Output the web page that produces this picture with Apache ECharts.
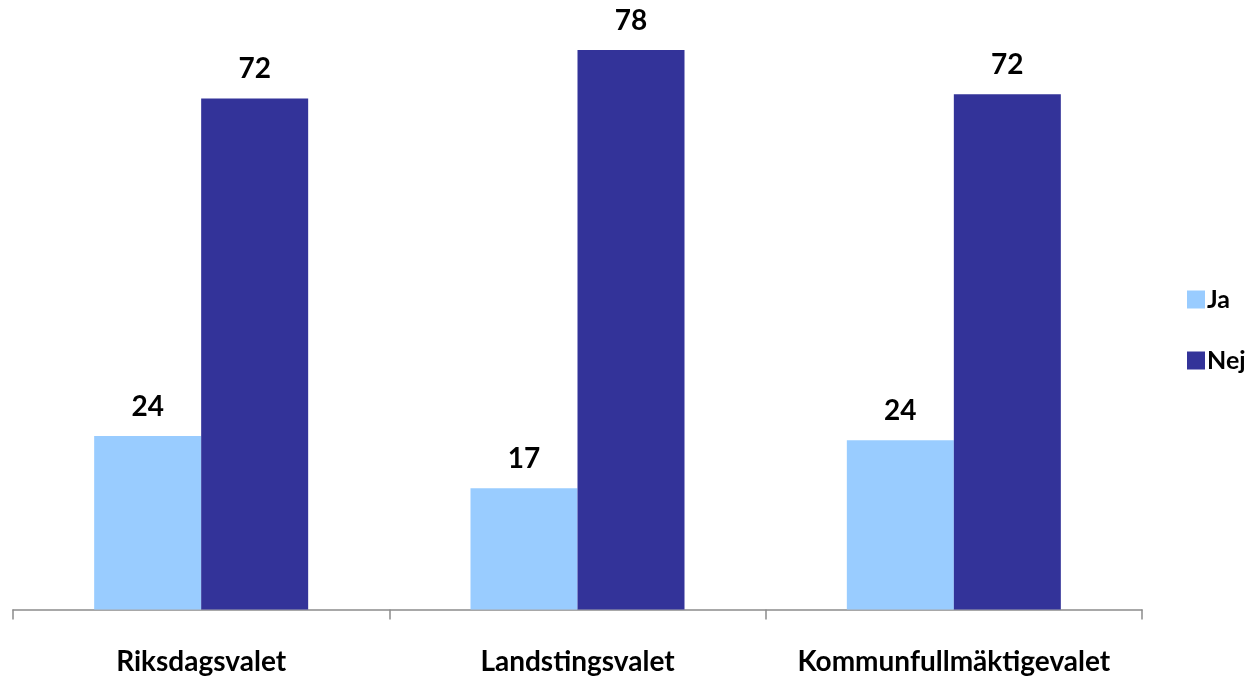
<!DOCTYPE html>
<html>
<head>
<meta charset="utf-8">
<script src="https://cdn.jsdelivr.net/npm/echarts@6/dist/echarts.min.js"></script>
<style>
html,body{margin:0;padding:0;background:#fff;}
#chart{width:1260px;height:677px;}
</style>
</head>
<body>
<div id="chart"></div>
<script>
const categories = ['Riksdagsvalet', 'Landstingsvalet', 'Kommunfullmäktigevalet'];
const seriesNames = ['Ja', 'Nej'];
const jaValues = [24.3, 17.0, 23.7];
const nejValues = [71.6, 78.4, 72.2];

const FONT = 'Lato, "Open Sans", "Liberation Sans", sans-serif';
const chart = echarts.init(document.getElementById('chart'), null, {renderer: 'canvas'});
const labelOpt = {
  show: true,
  position: 'top',
  distance: 16,
  fontFamily: FONT,
  fontWeight: 'bold',
  fontSize: 28,
  lineHeight: 27,
  color: '#000',
  formatter: p => Math.round(p.value)
};
chart.setOption({
  animation: false,
  backgroundColor: '#fff',
  grid: {left: 13, right: 118, top: 38.6, bottom: 67.5, containLabel: false},
  legend: {
    orient: 'vertical',
    left: 1187,
    top: 287,
    itemWidth: 18,
    itemHeight: 18,
    itemGap: 36,
    icon: 'rect',
    padding: 0,
    textStyle: {fontFamily: FONT, fontWeight: 'bold', fontSize: 25, lineHeight: 18, color: '#000', padding: [0, 0, 0, -3]},
    data: seriesNames
  },
  xAxis: {
    type: 'category',
    data: categories,
    axisLine: {lineStyle: {color: '#8c8c8c', width: 1.5}},
    axisTick: {show: true, interval: 0, length: 10, lineStyle: {color: '#8c8c8c', width: 1.5}},
    axisLabel: {interval: 0, margin: 38, fontFamily: FONT, fontWeight: 'bold', fontSize: 28, lineHeight: 28, color: '#000'}
  },
  yAxis: {
    type: 'value',
    min: 0,
    max: 80,
    show: false,
    splitLine: {show: false}
  },
  series: [
    {name: 'Ja', type: 'bar', data: jaValues, barWidth: 107, barGap: '0%', itemStyle: {color: '#99CCFF'}, label: labelOpt},
    {name: 'Nej', type: 'bar', data: nejValues, barWidth: 107, barGap: '0%', itemStyle: {color: '#333399'}, label: labelOpt}
  ]
});
</script>
</body>
</html>
